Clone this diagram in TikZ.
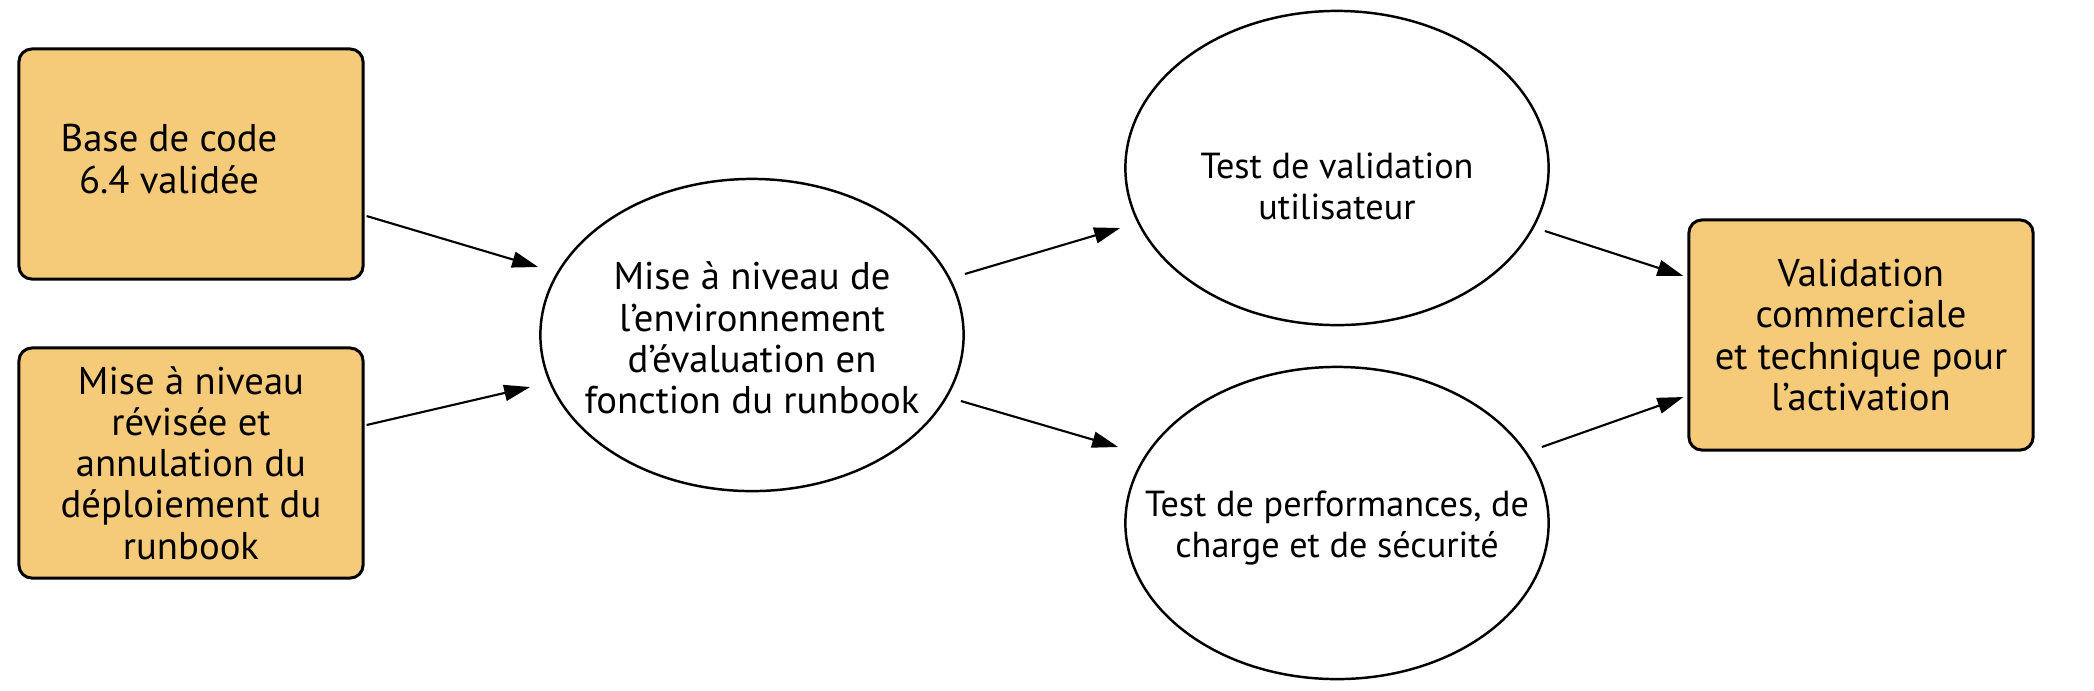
\documentclass[tikz,border=0pt]{standalone}
\usepackage{fontspec}
\setmainfont{PT Sans}
\usetikzlibrary{arrows.meta,calc,shapes.geometric}
\definecolor{boxfill}{RGB}{245,203,122}
\tikzset{
  ybox/.style={draw=black, line width=0.85pt, fill=boxfill, rounded corners=0.13cm,
    align=center, inner sep=0pt},
  oval/.style={draw=black, line width=0.7pt, ellipse, inner sep=0pt, align=center},
  conn/.style={line width=0.6pt, -{Triangle[length=0.26cm,width=0.16cm]}},
  mtext/.style={font=\fontsize{11pt}{11.7pt}\selectfont},
  etext/.style={font=\fontsize{10.3pt}{11.7pt}\selectfont}
}
\begin{document}
\begin{tikzpicture}[x=0.01cm,y=-0.01cm]
\useasboundingbox (0,0) rectangle (2094,690);
\node[ybox, minimum width=3.44cm, minimum height=2.30cm,
  label={[mtext, align=center, shift={(-0.22cm,0.05cm)}]center:{Base de code\\6.4 validée}}]
  (b1) at (191,164) {};
\node[ybox, mtext, minimum width=3.44cm, minimum height=2.30cm]
  (b2) at (191,463) {Mise à niveau\\révisée et\\annulation du\\déploiement du\\runbook};
\node[oval, minimum width=4.23cm, minimum height=3.12cm,
  label={[mtext, align=center, shift={(0,-0.03cm)}]center:{Mise à niveau de\\l’environnement\\d’évaluation en\\fonction du runbook}}]
  (mid) at (752,335) {};
\node[oval, minimum width=4.23cm, minimum height=3.14cm,
  label={[etext, align=center, shift={(0,-0.18cm)}]center:{Test de validation\\utilisateur}}]
  (top) at (1337,168) {};
\node[oval, minimum width=4.23cm, minimum height=3.12cm,
  label={[etext, align=center, shift={(0,-0.05cm)}]center:{Test de performances, de\\charge et de sécurité}}]
  (bot) at (1337,523) {};
\node[ybox, mtext, minimum width=3.44cm, minimum height=2.30cm]
  (rb) at (1861,335) {Validation\\commerciale\\et technique pour\\l’activation};
\draw[conn] ($(b1.east)+(2,52)$) -- ($(mid.west)+(-1,-68)$);
\draw[conn] ($(b2.east)+(2,-38)$) -- ($(mid.west)+(-9,52)$);
\draw[conn] ($(mid.east)+(0,-61)$) -- ($(top.west)+(-4,60)$);
\draw[conn] ($(mid.east)+(-4,66)$) -- ($(bot.west)+(-6,-76)$);
\draw[conn] ($(top.east)+(-5,63)$) -- ($(rb.west)+(-4,-59)$);
\draw[conn] ($(bot.east)+(-8,-76)$) -- ($(rb.west)+(-4,62)$);
\end{tikzpicture}
\end{document}
